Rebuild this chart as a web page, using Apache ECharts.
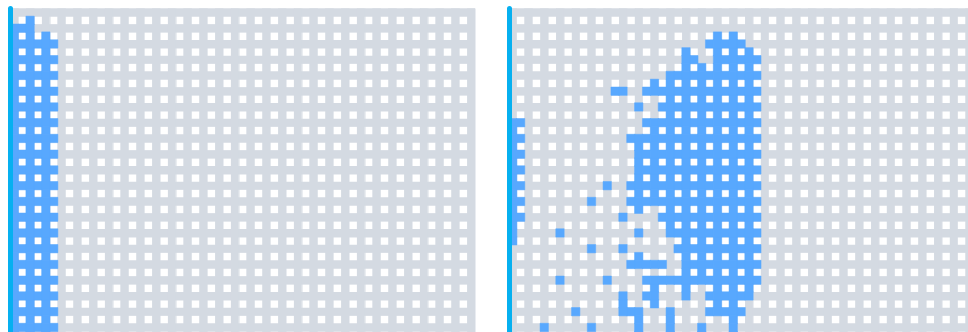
<!DOCTYPE html>
<html><head><meta charset="utf-8">
<script src="https://cdn.jsdelivr.net/npm/echarts@6/dist/echarts.min.js"></script>
<style>html,body{margin:0;padding:0;background:#fff;overflow:hidden;width:968px;height:332px}#chart{width:984px;height:480px}</style>
</head><body><div id="chart"></div>
<script>
// grid of 59 x 59 cells; only the top rows are visible in the window
const gridCols = 59;
const gridRows = 59;
const colCategories = Array.from({length: gridCols}, (_, i) => String(i));
const rowCategories = Array.from({length: gridRows}, (_, i) => String(i));

// blue cells, as blocks: [rowFrom, rowTo, colFrom, colTo]
const leftBlue = [
  [1, 1, 2, 2], [2, 2, 0, 2], [3, 3, 0, 4], [4, 58, 0, 5]
];
const rightBlue = [
  [14, 26, 0, 1], [27, 29, 0, 0],
  [3, 3, 26, 28], [4, 4, 25, 29],
  [5, 5, 22, 22], [5, 5, 26, 31],
  [6, 6, 22, 23], [6, 6, 26, 31],
  [7, 7, 22, 31], [8, 8, 20, 31], [9, 9, 18, 31],
  [10, 10, 17, 31], [10, 10, 13, 14],
  [11, 11, 19, 31], [12, 12, 19, 31], [12, 12, 16, 16], [13, 13, 19, 31],
  [14, 15, 17, 31], [16, 16, 15, 31], [17, 21, 16, 31],
  [22, 22, 15, 31], [22, 22, 12, 12], [23, 23, 15, 31],
  [24, 24, 15, 31], [24, 24, 10, 10],
  [25, 25, 16, 16], [25, 25, 19, 31], [26, 26, 19, 31], [26, 26, 14, 14],
  [27, 27, 20, 31], [28, 28, 20, 31], [28, 28, 16, 16], [28, 28, 6, 6],
  [29, 29, 21, 31], [30, 30, 21, 31], [30, 30, 10, 10], [30, 30, 14, 14],
  [31, 31, 16, 16], [31, 31, 22, 31],
  [32, 32, 15, 19], [32, 32, 22, 31],
  [33, 33, 17, 17], [33, 33, 22, 31],
  [34, 34, 17, 31], [34, 34, 6, 6], [34, 34, 12, 12],
  [35, 35, 17, 19], [35, 35, 22, 22], [35, 35, 25, 30],
  [36, 36, 17, 18], [36, 36, 14, 14], [36, 36, 22, 22], [36, 36, 25, 30],
  [37, 37, 14, 14], [37, 37, 18, 18], [37, 37, 25, 29],
  [38, 38, 14, 16], [38, 38, 20, 20], [38, 38, 25, 29], [38, 38, 8, 8],
  [39, 39, 16, 16], [39, 39, 20, 20], [39, 39, 28, 28],
  [40, 41, 16, 16], [40, 41, 20, 20], [40, 41, 24, 24], [40, 41, 28, 28],
  [40, 40, 4, 4], [40, 40, 10, 10]
];

const GRAY = '#d4dae2';
const BLUE = '#58a8fe';
const CYAN = '#06b0f0';

function toCells(blocks) {
  const seen = new Set();
  const out = [];
  blocks.forEach(([r0, r1, c0, c1]) => {
    for (let r = r0; r <= r1; r++) {
      for (let c = c0; c <= c1; c++) {
        if (r % 2 === 1 && c % 2 === 1) continue; // open (white) cells stay white
        const k = r + ':' + c;
        if (seen.has(k)) continue;
        seen.add(k);
        out.push([c, r, 1]);
      }
    }
  });
  return out;
}

const CELL = 7.875;
const SIZE = gridCols * CELL;

function xAx(gi) {
  return {
    gridIndex: gi, type: 'category', data: colCategories, boundaryGap: true,
    axisLine: {show: false}, axisTick: {show: false}, axisLabel: {show: false},
    splitLine: {show: true, interval: 0, lineStyle: {color: GRAY, width: 0.5}},
    splitArea: {show: true, interval: 0, areaStyle: {color: [GRAY, 'rgba(255,255,255,0)']}}
  };
}
function yAx(gi) {
  return {
    gridIndex: gi, type: 'category', data: rowCategories, inverse: true, boundaryGap: true,
    axisLine: {show: false}, axisTick: {show: false}, axisLabel: {show: false},
    splitLine: {show: true, interval: 0, lineStyle: {color: GRAY, width: 0.5}},
    splitArea: {show: true, interval: 0, areaStyle: {color: [GRAY, 'rgba(255,255,255,0)']}}
  };
}
function yLine(gi) {
  return {
    gridIndex: gi, type: 'category', data: rowCategories, inverse: true, position: 'left', z: 20,
    axisLine: {show: true, lineStyle: {color: CYAN, width: 5}},
    axisTick: {show: false}, axisLabel: {show: false}, splitLine: {show: false}, splitArea: {show: false}
  };
}
function heat(xi, yi, data) {
  return {
    type: 'heatmap', xAxisIndex: xi, yAxisIndex: yi, data: data, z: 5,
    itemStyle: {color: BLUE, borderColor: BLUE, borderWidth: 0.5},
    emphasis: {disabled: true}, silent: true, progressive: 0
  };
}

const chart = echarts.init(document.getElementById('chart'), null, {renderer: 'canvas', width: 984, height: 480});
chart.setOption({
  animation: false,
  backgroundColor: '#ffffff',
  grid: [
    {left: 10.4, top: 8.5, width: SIZE, height: SIZE},
    {left: 508.8, top: 8.5, width: SIZE, height: SIZE}
  ],
  xAxis: [xAx(0), xAx(1)],
  yAxis: [yAx(0), yLine(0), yAx(1), yLine(1)],
  visualMap: {show: false, type: 'piecewise', seriesIndex: [0, 1], dimension: 2,
    pieces: [{value: 1, color: BLUE}]},
  series: [heat(0, 0, toCells(leftBlue)), heat(1, 2, toCells(rightBlue))]
});
</script></body></html>
